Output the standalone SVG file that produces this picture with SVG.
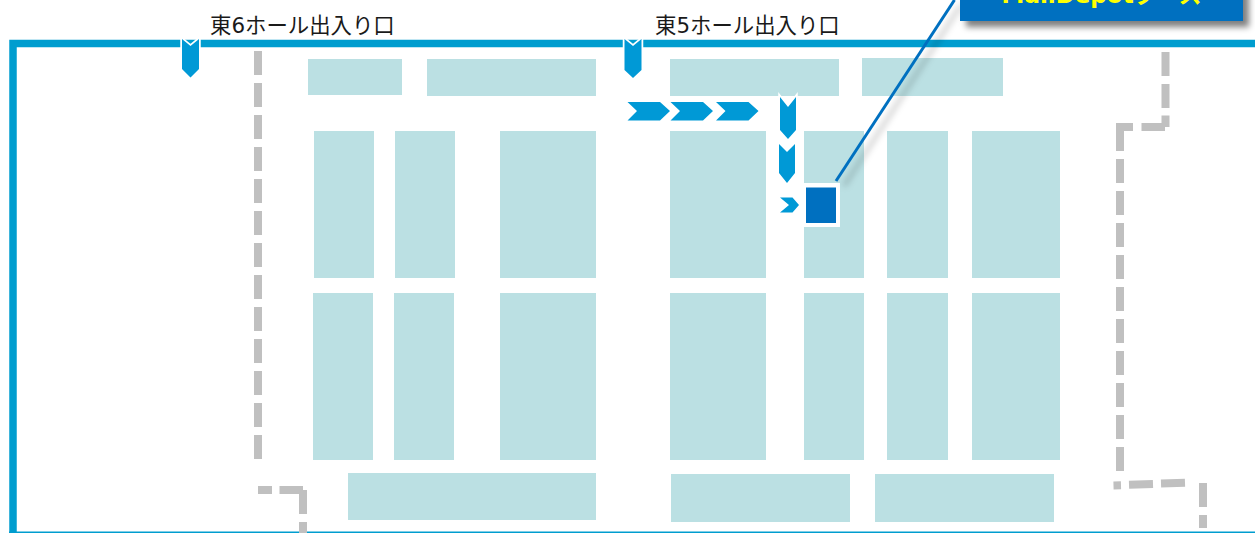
<svg xmlns="http://www.w3.org/2000/svg" width="1255" height="533" viewBox="0 0 1255 533">
<style>
.b{fill:#bbe0e3}
.d{fill:none;stroke:#c0c0c0;stroke-width:8}
.a{fill:#0099d6;stroke:#fff;stroke-width:3.500;paint-order:stroke}
.t{font-family:"DejaVu Sans","Noto Sans CJK JP",sans-serif;font-size:21.400px;fill:#1a1a1a}
</style>
<defs><filter id="s" x="-20%" y="-40%" width="140%" height="220%"><feGaussianBlur stdDeviation="3"/></filter></defs>
<rect width="1255" height="533" fill="#fff"/>
<g id="walls">
<path d="M1255 43.500H13V533" fill="none" stroke="#009dcf" stroke-width="7.500"/>
<path d="M9 532.500H1255" stroke="#009dcf" stroke-width="2"/>
</g>
<g id="booths">
<rect class="b" x="308" y="59" width="94" height="36"/><rect class="b" x="427" y="59" width="169" height="37"/><rect class="b" x="670" y="59" width="169" height="37"/><rect class="b" x="862" y="58" width="141" height="38"/>
<rect class="b" x="314" y="131" width="60" height="147"/><rect class="b" x="395" y="131" width="60" height="147"/><rect class="b" x="500" y="131" width="96" height="147"/><rect class="b" x="670" y="131" width="96" height="147"/><rect class="b" x="804" y="131" width="60" height="147"/><rect class="b" x="887" y="131" width="61" height="147"/><rect class="b" x="972" y="131" width="88" height="147"/>
<rect class="b" x="313" y="293" width="60" height="167"/><rect class="b" x="394" y="293" width="60" height="167"/><rect class="b" x="500" y="293" width="96" height="167"/><rect class="b" x="670" y="293" width="96" height="167"/><rect class="b" x="804" y="293" width="60" height="167"/><rect class="b" x="887" y="293" width="61" height="167"/><rect class="b" x="972" y="293" width="88" height="167"/>
<rect class="b" x="348" y="473" width="248" height="47"/><rect class="b" x="671" y="474" width="179" height="48"/><rect class="b" x="875" y="474" width="179" height="48"/>
</g>
<g id="routes">
<path class="d" stroke-dasharray="24 8" d="M258 51V459"/>
<path class="d" d="M258 490H272M279.500 490H303M303 490V514M303 522V533"/>
<path class="d" stroke-dasharray="24 8" d="M1165.500 52V116"/>
<path class="d" d="M1165.500 115.500V127M1165 127H1141.500M1133 127H1116M1120 127V151"/>
<path class="d" stroke-dasharray="24 8" d="M1120 159V471"/>
<path class="d" d="M1113.500 485.500L1121 485.300M1129 484.800L1153 484M1161 483.500L1185 482.700M1203 483V507M1203 515V528"/>
</g>
<g id="arrows">
<path class="a" d="M182 39L190.500 46L199 39V69L190.500 77.500L182 69Z"/>
<path class="a" d="M624.500 39L633 46L641.500 39V70L633 78L624.500 70Z"/>
<path class="a" d="M627.500 102H660L670 111L660 120.500H627.500L637 111Z"/>
<path class="a" d="M670.500 102H703L713 111L703 120.500H670.500L680 111Z"/>
<path class="a" d="M716 102H748.500L758.500 111L748.500 120.500H716L725.500 111Z"/>
<path class="a" d="M780 97L788 107L796 97V130L788 139L780 130Z"/>
<path class="a" d="M779 144L787 152L795 144V173L787 183L779 173Z"/>
<path class="a" d="M780 197.500H792.500L799 205L792.500 212.500H780L789 205Z"/>
</g>
<g id="booth-marker">
<rect x="804" y="183" width="36" height="44" fill="#fff"/>
<rect x="806" y="187.500" width="30" height="35.500" fill="#0070c0"/>
</g>
<g id="callout">
<path d="M838 181L955 0" stroke="#000" stroke-opacity=".2" stroke-width="4" filter="url(#s)" transform="translate(6 5)"/>
<path d="M836 181L954.500 0" stroke="#0070c0" stroke-width="3"/>
<rect x="966" y="-20" width="283" height="47" fill="#000" fill-opacity=".5" filter="url(#s)"/>
<rect x="960" y="-25" width="283" height="46" fill="#0070c0"/>
<text x="1101.500" y="3" text-anchor="middle" font-family="DejaVu Sans,Noto Sans CJK JP,sans-serif" font-size="23" font-weight="700" fill="#ffff00">MailDepotブース</text>
</g>
<text class="t" x="210" y="33">東6ホール出入り口</text>
<text class="t" x="655" y="33">東5ホール出入り口</text>
</svg>
